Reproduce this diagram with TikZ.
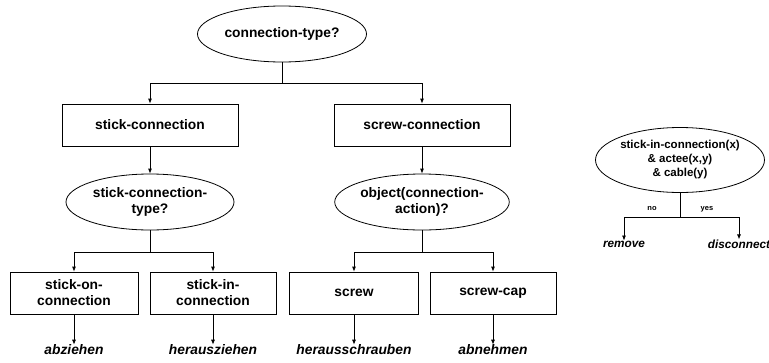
\documentclass[tikz,border=0pt]{standalone}
\usepackage{fontspec}
\setmainfont{Liberation Sans}
\usetikzlibrary{arrows.meta,shapes.geometric}
\tikzset{
  frage/.style={ellipse,draw,line width=0.8pt,inner sep=0pt,align=center,
    font=\fontsize{13.8}{16}\selectfont\bfseries},
  kasten/.style={rectangle,draw,line width=0.8pt,inner sep=0pt,align=center,
    minimum height=42pt,font=\fontsize{13.8}{16}\selectfont\bfseries},
  aktion/.style={inner sep=0pt,font=\fontsize{13.8}{16}\selectfont\bfseries\itshape},
  pfeil/.style={line width=0.8pt,-{Latex[length=5pt,width=4pt]}},
  linie/.style={line width=0.8pt}
}
\begin{document}
\begin{tikzpicture}[x=1pt,y=-1pt]
\useasboundingbox (0,0) rectangle (769,362);
% Wurzel
\node[frage,minimum width=169pt,minimum height=56pt] (ct) at (282,34) {connection-type?};
% erste Ebene
\node[kasten,minimum width=176pt] (stick) at (150,125) {stick-connection};
\node[kasten,minimum width=176pt] (screw) at (422,125) {screw-connection};
\coordinate (j0) at (282,83);
\draw[linie] (ct) -- (j0);
\draw[pfeil] (j0) -| (stick.north);
\draw[pfeil] (j0) -| (screw.north);
% zweite Ebene
\node[frage,minimum width=168pt,minimum height=56pt] (sct) at (150,202) {stick-connection-\\type?};
\node[frage,minimum width=169pt,minimum height=56pt] (oca) at (422,202) {object(connection-\\action)?};
\draw[pfeil] (stick) -- (sct);
\draw[pfeil] (screw) -- (oca);
% dritte Ebene
\node[kasten,minimum width=128pt] (son) at (74,293) {stick-on-\\connection};
\node[kasten,minimum width=126pt] (sin) at (213,293) {stick-in-\\connection};
\node[kasten,minimum width=129pt] (scr) at (354,293) {screw};
\node[kasten,minimum width=126pt] (cap) at (493,293) {screw-cap};
\coordinate (j1) at (150,252);
\coordinate (j2) at (422,252);
\draw[linie] (sct) -- (j1);
\draw[linie] (oca) -- (j2);
\draw[pfeil] (j1) -| (son.north);
\draw[pfeil] (j1) -| (sin.north);
\draw[pfeil] (j2) -| (scr.north);
\draw[pfeil] (j2) -| (cap.north);
% Aktionen
\node[aktion] (a1) at (74,350) {abziehen};
\node[aktion] (a2) at (213,350) {herausziehen};
\node[aktion] (a3) at (354,350) {herausschrauben};
\node[aktion] (a4) at (493,350) {abnehmen};
\draw[pfeil] (son) -- (a1);
\draw[pfeil] (sin) -- (a2);
\draw[pfeil] (scr) -- (a3);
\draw[pfeil] (cap) -- (a4);
% Regel rechts
\node[frage,minimum width=156pt,minimum height=65pt,font=\fontsize{11.5}{14}\selectfont\bfseries] (rule) at (680,160)
  {stick-in-connection(x)\\\& actee(x,y)\\\& cable(y)};
\coordinate (j3) at (680,217);
\draw[linie] (rule) -- (j3);
\node[aktion,font=\fontsize{11.8}{14}\selectfont\bfseries\itshape] (rm) at (624,244) {remove};
\node[aktion,font=\fontsize{11.8}{14}\selectfont\bfseries\itshape] (dc) at (739,244) {disconnect};
\draw[pfeil] (j3) -| (rm);
\draw[pfeil] (j3) -| (dc);
\node[font=\fontsize{7.5}{9}\selectfont\bfseries] (no) at (652,209) {no};
\node[font=\fontsize{7.5}{9}\selectfont\bfseries] (yes) at (707,209) {yes};
\end{tikzpicture}
\end{document}
